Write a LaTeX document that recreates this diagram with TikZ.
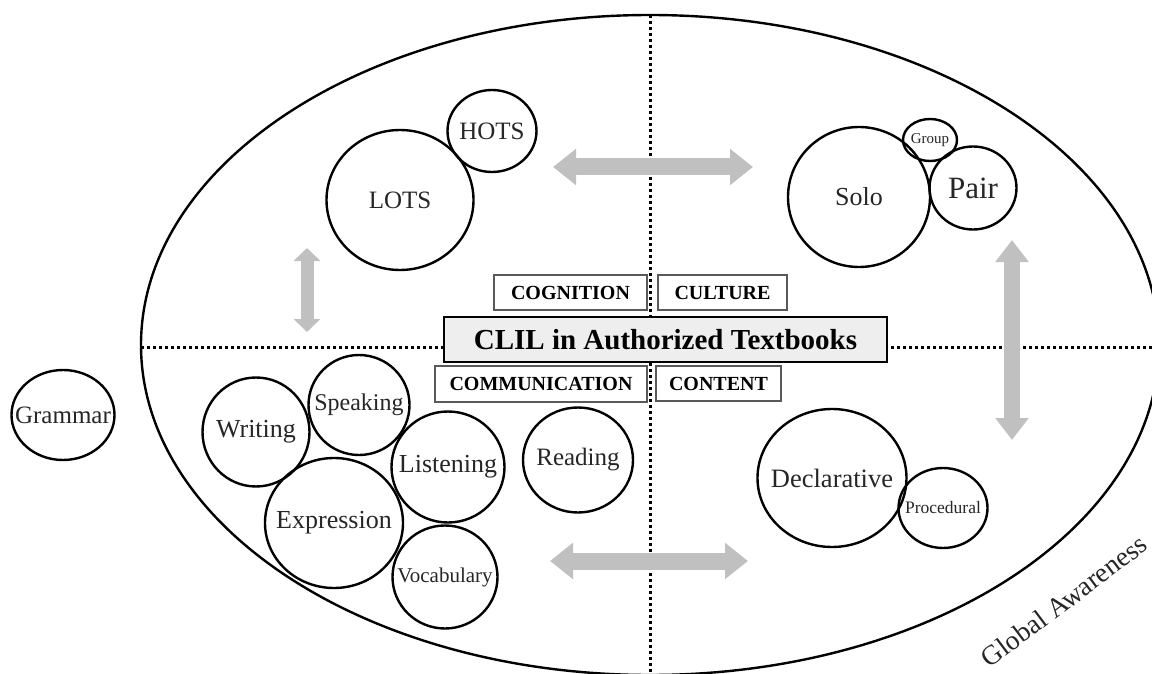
\documentclass[tikz,border=0pt]{standalone}
\usepackage{fontspec}
\setmainfont{Liberation Serif}
\usetikzlibrary{shapes.geometric,arrows.meta}

\definecolor{grigio}{RGB}{192,192,192}
\definecolor{sfondo}{RGB}{238,238,238}
\newcommand{\nomebolla}[1]{\makebox[0pt]{#1}}

\begin{document}
\begin{tikzpicture}[x=1pt,y=-1pt,
	bolla/.style={ellipse, draw, line width=2.4pt, inner sep=0pt, text=black!85},
	etichetta/.style={draw=black!65, line width=1.2pt, fill=white, inner sep=0pt, font=\fontsize{20}{24}\selectfont\bfseries},
	freccia/.style={line width=17pt, grigio, {Triangle[length=23pt,width=35pt]}-{Triangle[length=23pt,width=35pt]}},
	puntini/.style={line width=3pt, dash pattern=on 3pt off 3pt}]
	\useasboundingbox (0,0) rectangle (1152,674);
	
	% Ellisse e assi
	\draw[line width=2.4pt] (650,345) ellipse [x radius=509pt, y radius=330pt];
	\draw[puntini] (650,15) -- (650,674);
	\draw[puntini] (141,347) -- (1152,347);
	
	% Riquadri centrali
	\node[etichetta, minimum width=153pt, minimum height=35pt] (cognition) at (570.5,292.5) {COGNITION};
	\node[etichetta, minimum width=129pt, minimum height=35pt] (culture) at (722.5,292.5) {CULTURE};
	\node[etichetta, minimum width=212pt, minimum height=36pt] (communication) at (541,384) {COMMUNICATION};
	\node[etichetta, minimum width=125pt, minimum height=35pt] (content) at (718.5,383.5) {CONTENT};
	\node[draw, line width=2.4pt, fill=sfondo, inner sep=0pt, minimum width=443pt, minimum height=45pt,
		font=\fontsize{29}{34}\selectfont\bfseries] (clil) at (665.5,339.5) {CLIL in Authorized Textbooks};
	
	% Cognition
	\node[bolla, minimum width=147pt, minimum height=140pt, font=\fontsize{25}{30}\selectfont] (lots) at (400,200) {\nomebolla{LOTS}};
	\node[bolla, minimum width=89pt, minimum height=82pt, font=\fontsize{25}{30}\selectfont] (hots) at (492,131) {\nomebolla{HOTS}};
	
	% Culture
	\node[bolla, minimum width=142pt, minimum height=140pt, font=\fontsize{26}{30}\selectfont] (solo) at (859,197) {\nomebolla{Solo}};
	\node[bolla, minimum width=54pt, minimum height=42pt, font=\fontsize{15}{18}\selectfont] (group) at (930,140) {\nomebolla{Group}};
	\node[bolla, minimum width=87pt, minimum height=83pt, font=\fontsize{31}{36}\selectfont] (pair) at (973,188) {\nomebolla{Pair}};
	
	% Communication
	\node[bolla, minimum width=107pt, minimum height=109pt, font=\fontsize{26}{30}\selectfont] (writing) at (256,432) {\nomebolla{Writing}};
	\node[bolla, minimum width=101pt, minimum height=100pt, font=\fontsize{24}{28}\selectfont] (speaking) at (359,405) {\nomebolla{Speaking}};
	\node[bolla, minimum width=113pt, minimum height=111pt, font=\fontsize{26}{30}\selectfont] (listening) at (448,467) {\nomebolla{Listening}};
	\node[bolla, minimum width=138pt, minimum height=130pt, font=\fontsize{26}{30}\selectfont] (expression) at (334,523) {\nomebolla{Expression}};
	\node[bolla, minimum width=105pt, minimum height=103pt, font=\fontsize{21}{25}\selectfont] (vocabulary) at (445,577) {\nomebolla{Vocabulary}};
	\node[bolla, minimum width=110pt, minimum height=105pt, font=\fontsize{25}{30}\selectfont] (reading) at (578,460) {\nomebolla{Reading}};
	\node[bolla, minimum width=103pt, minimum height=90pt, font=\fontsize{25}{30}\selectfont] (grammar) at (63,415) {\nomebolla{Grammar}};
	
	% Content
	\node[bolla, minimum width=149pt, minimum height=138pt, font=\fontsize{26.5}{31}\selectfont] (declarative) at (832,478) {\nomebolla{Declarative}};
	\node[bolla, minimum width=89pt, minimum height=80pt, font=\fontsize{17.5}{21}\selectfont] (procedural) at (943,508) {\nomebolla{Procedural}};
	
	% Frecce grigie
	\coordinate (ts) at (553,167); \coordinate (td) at (753,167);
	\coordinate (bs) at (550,561); \coordinate (bd) at (748,561);
	\coordinate (la) at (307,248); \coordinate (lb) at (307,332);
	\coordinate (ra) at (1012,240); \coordinate (rb) at (1012,440);
	\draw[freccia] (ts) -- (td);
	\draw[freccia] (bs) -- (bd);
	\draw[freccia, line width=13pt, {Triangle[length=13pt,width=26pt]}-{Triangle[length=13pt,width=26pt]}] (la) -- (lb);
	\draw[freccia, line width=16pt, {Triangle[length=22pt,width=32pt]}-{Triangle[length=22pt,width=32pt]}] (ra) -- (rb);
	
	% Scritta obliqua
	\node[rotate=37, font=\fontsize{27.5}{32}\selectfont, text=black!85] (globale) at (1064,601) {Global Awareness};
\end{tikzpicture}
\end{document}
